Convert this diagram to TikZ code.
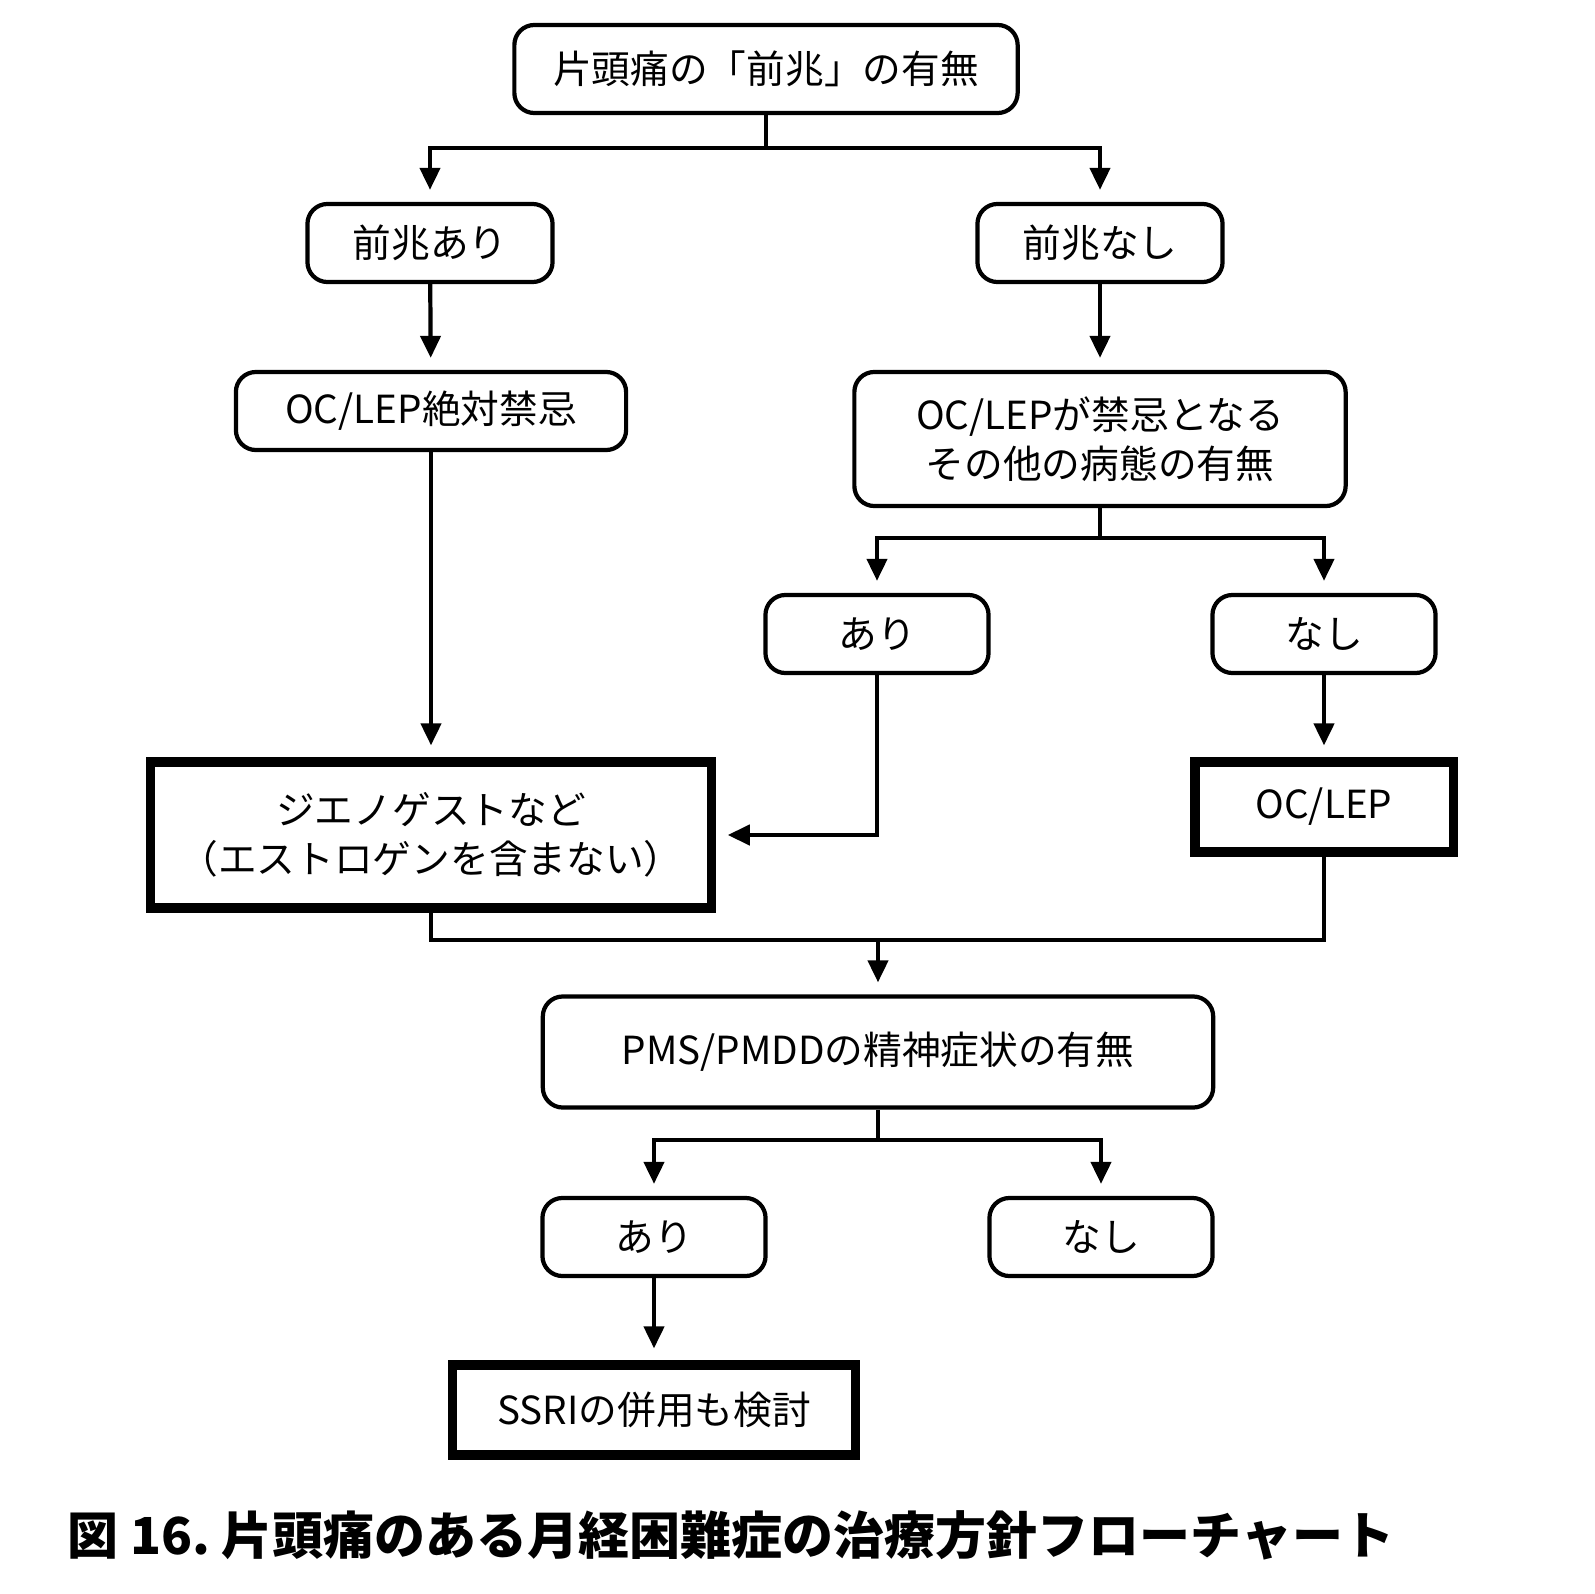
\documentclass[tikz,border=0pt]{standalone}
\usepackage{fontspec}
\setmainfont{Noto Sans CJK JP}
\usetikzlibrary{arrows.meta}
\begin{document}
\begin{tikzpicture}[x=0.01cm,y=-0.01cm,
 rb/.style={draw,line width=1.2pt,rounded corners=0.2cm,inner sep=0pt,align=center,font=\fontsize{11pt}{14pt}\selectfont},
 tb/.style={draw,line width=2.6pt,inner sep=0pt,align=center,font=\fontsize{11pt}{14pt}\selectfont},
 ln/.style={line width=1.2pt},
 ar/.style={line width=1.2pt,-{Triangle[length=0.22cm,width=0.2cm]},shorten >=0.12cm}]
\useasboundingbox (0,0) rectangle (1594,1594);
\node[rb,minimum width=5.03cm,minimum height=0.88cm] (top) at (766,69) {片頭痛の「前兆」の有無};
\node[rb,minimum width=2.45cm,minimum height=0.78cm] (ari1) at (430,243) {前兆あり};
\node[rb,minimum width=2.45cm,minimum height=0.78cm] (nashi1) at (1100,243) {前兆なし};
\node[rb,minimum width=3.9cm,minimum height=0.78cm] (kin) at (431,411) {OC/LEP絶対禁忌};
\node[rb,minimum width=4.91cm,minimum height=1.34cm] (other) at (1100,439) {OC/LEPが禁忌となる\\その他の病態の有無};
\node[rb,minimum width=2.23cm,minimum height=0.78cm] (ari2) at (877,634) {あり};
\node[rb,minimum width=2.23cm,minimum height=0.78cm] (nashi2) at (1324,634) {なし};
\node[tb,minimum width=5.6cm,minimum height=1.46cm] (dien) at (431,835) {ジエノゲストなど\\（エストロゲンを含まない）};
\node[tb,minimum width=2.58cm,minimum height=0.9cm] (oc) at (1324,807) {OC/LEP};
\node[rb,minimum width=6.7cm,minimum height=1.11cm] (pms) at (878,1052) {PMS/PMDDの精神症状の有無};
\node[rb,minimum width=2.23cm,minimum height=0.78cm] (ari3) at (654,1237) {あり};
\node[rb,minimum width=2.23cm,minimum height=0.78cm] (nashi3) at (1101,1237) {なし};
\node[tb,minimum width=4.03cm,minimum height=0.9cm] (ssri) at (654,1410) {SSRIの併用も検討};
\node[font=\fontsize{14.5pt}{16pt}\selectfont\bfseries,anchor=west] (cap) at (55,1535) {図 16.\ 片頭痛のある月経困難症の治療方針フローチャート};
\coordinate (j1) at (766,148);
\coordinate (j2) at (1100,538);
\coordinate (j3) at (878,940);
\coordinate (j4) at (878,1140);
\draw[ln] (top.south) -- (j1);
\draw[ar] (j1) -| (ari1.north);
\draw[ar] (j1) -| (nashi1.north);
\draw[ar] (ari1) -- (kin);
\draw[ar] (nashi1) -- (other);
\draw[ar] (kin) -- (dien);
\draw[ln] (other.south) -- (j2);
\draw[ar] (j2) -| (ari2.north);
\draw[ar] (j2) -| (nashi2.north);
\draw[ar] (nashi2) -- (oc);
\draw[ar] (ari2.south) |- (dien.east);
\draw[ln] (dien.south) |- (j3);
\draw[ln] (oc.south) |- (j3);
\draw[ar] (j3) -- (pms);
\draw[ln] (pms.south) -- (j4);
\draw[ar] (j4) -| (ari3.north);
\draw[ar] (j4) -| (nashi3.north);
\draw[ar] (ari3) -- (ssri);
\end{tikzpicture}
\end{document}
